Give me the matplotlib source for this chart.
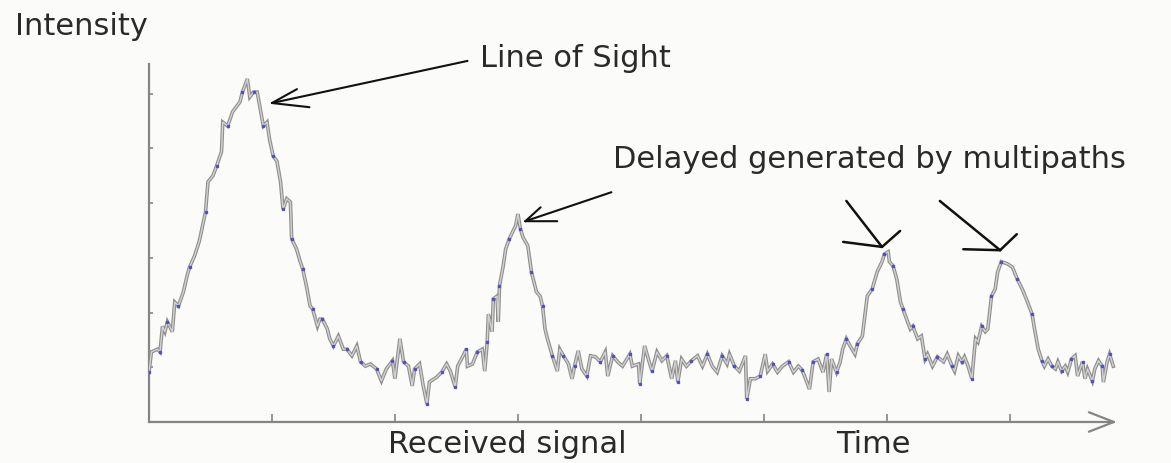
import numpy as np
import matplotlib
matplotlib.use("Agg")
import matplotlib.pyplot as plt

# received signal (time: 100 per tick, intensity: 10 per tick)
time = [0, 2, 7, 9, 11, 13, 15, 19, 21, 24, 28, 31, 33, 37, 41, 46, 48, 52, 55, 59,
        60, 64, 68, 74, 76, 80, 82, 85, 88, 90, 93, 96, 98, 101, 104, 107, 109, 112, 115, 116,
        120, 123, 125, 128, 131, 133, 137, 139, 141, 145, 147, 150, 154, 158, 161, 165, 169, 172, 176, 180,
        185, 189, 193, 198, 200, 204, 207, 211, 214, 216, 220, 223, 226, 228, 234, 238, 242, 245, 249, 251,
        255, 258, 259, 263, 267, 271, 273, 275, 276, 279, 280, 283, 284, 285, 288, 290, 293, 298, 300, 302,
        304, 308, 311, 315, 318, 320, 322, 324, 328, 332, 334, 337, 341, 344, 346, 349, 352, 356, 359, 363,
        367, 371, 373, 377, 381, 385, 391, 393, 398, 399, 403, 406, 409, 413, 417, 421, 425, 428, 430, 433,
        437, 441, 446, 450, 454, 458, 462, 466, 470, 472, 476, 480, 485, 486, 489, 493, 497, 501, 503, 507,
        511, 515, 520, 524, 528, 531, 533, 537, 540, 544, 548, 551, 553, 555, 559, 562, 564, 567, 570, 574,
        576, 580, 584, 588, 592, 596, 598, 601, 602, 605, 608, 611, 613, 616, 619, 621, 625, 628, 631, 633,
        637, 641, 646, 649, 653, 655, 658, 661, 663, 666, 669, 672, 674, 677, 680, 682, 685, 688, 690, 693,
        698, 702, 706, 710, 714, 718, 720, 723, 726, 728, 731, 734, 737, 739, 742, 745, 747, 750, 753, 755,
        759, 761, 763, 767, 769, 772, 775, 776, 779, 781, 784]
intensity = [9.1, 12.8, 13.3, 12.8, 17.5, 16.5, 18.3, 16.5, 21.9, 21.2, 23.8, 26.7, 28.3, 30.3, 33.1, 38.4, 43.9, 45.0, 46.8, 49.4,
             54.8, 54.1, 56.7, 58.5, 60.3, 62.7, 59.4, 60.3, 60.3, 57.8, 54.1, 54.8, 51.7, 48.6, 47.7, 43.9, 38.9, 40.8, 40.2, 33.5,
             31.6, 29.3, 28.0, 24.9, 21.2, 20.7, 17.5, 18.8, 18.8, 17.0, 15.2, 13.9, 15.7, 13.3, 13.3, 12.1, 13.9, 11.0, 10.2, 10.6,
             9.7, 7.5, 9.7, 11.2, 7.9, 15.2, 11.0, 10.2, 6.6, 9.7, 10.6, 6.6, 3.3, 7.3, 8.2, 9.1, 10.6, 9.3, 6.4, 10.2,
             11.9, 13.3, 10.2, 10.6, 12.8, 13.3, 9.3, 14.6, 19.7, 16.5, 22.5, 23.0, 18.3, 24.9, 28.5, 31.6, 33.5, 35.8, 38.0, 35.3,
             33.8, 32.2, 27.4, 23.8, 23.0, 21.2, 17.0, 15.2, 12.1, 9.3, 13.3, 12.1, 10.6, 7.9, 10.2, 13.0, 9.7, 8.4, 12.1, 11.9,
             11.0, 12.8, 8.4, 12.1, 11.0, 10.2, 12.4, 10.2, 10.6, 6.9, 13.9, 11.5, 9.3, 12.8, 11.2, 12.1, 7.9, 11.2, 7.3, 11.5,
             10.2, 11.2, 12.1, 10.2, 12.4, 10.2, 9.1, 12.1, 10.6, 12.4, 10.2, 9.3, 12.1, 4.2, 7.9, 7.9, 8.4, 12.4, 9.3, 10.6,
             9.1, 10.2, 11.0, 9.1, 10.2, 9.5, 8.4, 6.0, 11.0, 11.5, 9.1, 12.4, 5.5, 11.5, 9.1, 11.0, 13.3, 15.2, 13.9, 12.4,
             14.3, 15.7, 23.0, 24.3, 27.4, 29.3, 30.7, 31.1, 29.3, 28.5, 26.1, 21.9, 20.7, 18.8, 17.0, 17.5, 15.2, 15.7, 11.5, 12.4,
             10.2, 11.9, 11.0, 12.4, 10.2, 9.3, 12.1, 11.0, 11.9, 10.2, 7.9, 15.2, 14.6, 17.5, 16.5, 17.0, 23.0, 24.3, 27.4, 29.3,
             28.9, 28.3, 26.1, 24.3, 22.1, 19.7, 17.0, 13.3, 11.2, 10.2, 11.5, 10.2, 9.7, 11.0, 9.3, 10.2, 9.1, 11.5, 12.1, 8.4,
             11.0, 7.9, 9.7, 7.5, 9.7, 11.2, 10.2, 7.3, 11.0, 12.4, 10.2]

x_ticks = [100, 200, 300, 400, 500, 600, 700]
y_ticks = [10, 20, 30, 40, 50, 60]

los_peak = (100, 58.3)
delayed_peaks = [(306, 36.7), (596, 32.0), (692, 31.4)]

bg = "#fbfbf9"
axis_grey = "#858585"
font = "DejaVu Sans"

fig = plt.figure(figsize=(11.71, 4.64), dpi=100, facecolor=bg)
ax = fig.add_axes([0.1272, 0.0884, 0.8298, 0.7664], facecolor=bg)
ax.set_xlim(0, 790)
ax.set_ylim(0, 65)

# signal: grey trace with darker rim and a few blue specks
ax.plot(time, intensity, color="#8e8e8e", lw=2.6, solid_joinstyle="miter", zorder=3)
ax.plot(time, intensity, color="#d2d2d2", lw=1.0, zorder=4)
ax.plot(time[::3], intensity[::3], ls="none", marker="s", ms=1.4, color="#5050c8", zorder=5)

for s in ["top", "right", "bottom"]:
    ax.spines[s].set_visible(False)
ax.spines["left"].set_color(axis_grey)
ax.spines["left"].set_linewidth(1.6)
ax.spines["left"].set_bounds(0, 65.5)

# time axis with open arrowhead
ax.annotate("", xy=(787, 0), xytext=(0, 0), annotation_clip=False,
            arrowprops=dict(arrowstyle="->,head_length=0.9,head_width=0.35",
                            color=axis_grey, lw=1.6, shrinkA=0, shrinkB=0,
                            mutation_scale=20))

ax.set_xticks(x_ticks)
ax.set_yticks(y_ticks)
ax.tick_params(axis="x", direction="in", length=6, width=1.2, color=axis_grey,
               labelbottom=False)
ax.tick_params(axis="y", direction="in", length=3, width=1.2, color=axis_grey,
               labelleft=False)


def hand_arrow(tip, tail, wings, lw=1.5):
    # shaft plus two hand-drawn-looking wings (wing ends in points from the tip)
    line = dict(arrowstyle="-", color="#111111", lw=lw, shrinkA=0, shrinkB=0)
    ax.annotate("", xy=tip, xytext=tail, annotation_clip=False, arrowprops=line)
    for w in wings:
        ax.annotate("", xy=tip, xytext=w, textcoords="offset points",
                    annotation_clip=False, arrowprops=line)


hand_arrow(los_peak, (259, 66), [(18, 10), (27, -3)])
hand_arrow(delayed_peaks[0], (376, 42), [(11, 10), (23, 0)])
hand_arrow(delayed_peaks[1], (567, 40.4), [(-28, 3.6), (13, 11.5)], lw=1.8)
hand_arrow(delayed_peaks[2], (643, 40.4), [(-26.5, 0.7), (12, 11.5)], lw=1.8)

txt = dict(family=font, fontsize=22, color="#2a2a2a")
ax.text(269, 65.1, "Line of Sight", ha="left", va="baseline", clip_on=False, **txt)
ax.text(377, 46.6, "Delayed generated by multipaths", ha="left", va="baseline",
        clip_on=False, **txt)

fig.text(15 / 1171, 1 - 35 / 464, "Intensity", ha="left", va="baseline", **txt)
fig.text(388 / 1171, 1 - 453 / 464, "Received signal", ha="left", va="baseline", **txt)
fig.text(836 / 1171, 1 - 453 / 464, "Time", ha="left", va="baseline", **txt)

fig.savefig("out.png", dpi=100, facecolor=bg)
